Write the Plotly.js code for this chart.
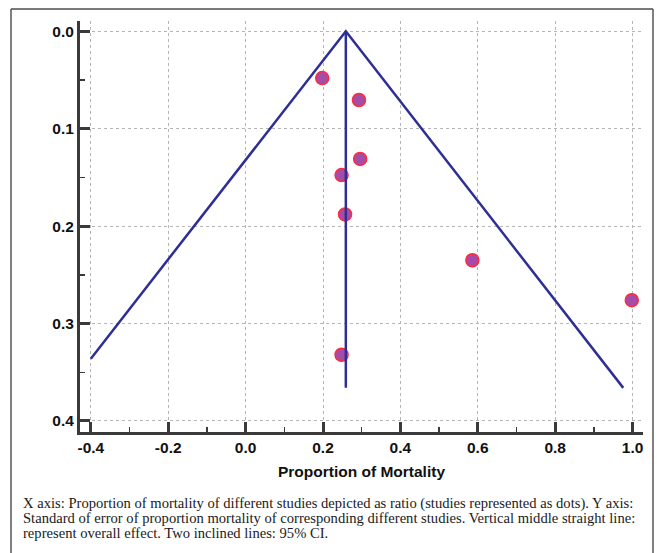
<!DOCTYPE html>
<html>
<head>
<meta charset="utf-8">
<script src="https://cdn.plot.ly/plotly-3.0.1.min.js"></script>
<style>
html,body{margin:0;padding:0;background:#fff;}
#chart{width:657px;height:553px;}
</style>
</head>
<body>
<div id="chart"></div>
<script>
// Study points: proportion of mortality (x) and standard error (y)
const studyProportion = [0.198, 0.293, 0.296, 0.248, 0.257, 0.586, 0.998, 0.248];
const studySE = [0.048, 0.0705, 0.131, 0.1475, 0.188, 0.235, 0.276, 0.332];

// Overall effect (vertical line)
const overallX = [0.259, 0.259];
const overallY = [0, 0.366];

// 95% CI funnel lines
const ciX = [-0.4, 0.259, 0.976];
const ciY = [0.336, 0, 0.366];

// Axis ticks
const xTicks = [-0.4, -0.2, 0.0, 0.2, 0.4, 0.6, 0.8, 1.0];
const xTickLabels = ["-0.4", "-0.2", "0.0", "0.2", "0.4", "0.6", "0.8", "1.0"];
const yTicks = [0.0, 0.1, 0.2, 0.3, 0.4];
const yTickLabels = ["0.0", "0.1", "0.2", "0.3", "0.4"];

const xTitle = "Proportion of Mortality";
const captionLines = [
  "X axis: Proportion of mortality of different studies depicted as ratio (studies represented as dots). Y axis:",
  "Standard of error of proportion mortality of corresponding different studies. Vertical middle straight line:",
  "represent overall effect. Two inclined lines: 95% CI."
];

const lineColor = "#2e2f94";

const traces = [
  {
    x: studyProportion, y: studySE, mode: "markers", type: "scatter",
    marker: {size: 13, color: "#a64ca8", line: {color: "#ff2a3a", width: 1.5}},
    hoverinfo: "x+y", showlegend: false
  },
  {
    x: overallX, y: overallY, mode: "lines", type: "scatter",
    line: {color: lineColor, width: 2.5}, showlegend: false
  },
  {
    x: ciX, y: ciY, mode: "lines", type: "scatter",
    line: {color: lineColor, width: 2.5}, showlegend: false
  }
];

// plot area: x 80..643, y 21..432 (px)
const L = 80, R = 643, T = 21, B = 432, W = 657, H = 553;
const px2x = p => (p - L) / (R - L);
const py2y = p => (B - p) / (B - T);

const tickFont = {family: "Liberation Sans, Arial, sans-serif", size: 15.5, color: "#111", weight: "bold"};

const annotations = captionLines.map((t, i) => ({
  text: t, xref: "paper", yref: "paper",
  x: px2x(21), y: py2y(503 + i * 15), xanchor: "left", yanchor: "middle",
  showarrow: false,
  font: {family: "Liberation Serif, Times New Roman, serif", size: 14.6, color: "#1a1a1a"}
}));

const layout = {
  width: W, height: H,
  margin: {l: L, r: W - R, t: T, b: H - B, pad: 0},
  paper_bgcolor: "#fff", plot_bgcolor: "#fff",
  xaxis: {
    range: [-0.428, 1.027],
    tickvals: xTicks, ticktext: xTickLabels,
    ticks: "inside", ticklen: 10, tickwidth: 3, tickcolor: "#3a3a3a",
    minor: {ticks: "inside", ticklen: 5, tickwidth: 1.5, tickcolor: "#3a3a3a", dtick: 0.1, tick0: 0, showgrid: false},
    showline: true, linewidth: 3, linecolor: "#3a3a3a",
    showgrid: true, gridcolor: "#b5b5b5", griddash: "dot", gridwidth: 1,
    zeroline: false,
    tickfont: tickFont,
    ticklabelstandoff: -1,
    title: {text: xTitle, font: {family: "Liberation Sans, Arial, sans-serif", size: 15.5, color: "#111", weight: "bold"}, standoff: 12}
  },
  yaxis: {
    range: [0.4113, -0.0106],
    tickvals: yTicks, ticktext: yTickLabels,
    ticks: "inside", ticklen: 10, tickwidth: 3, tickcolor: "#3a3a3a",
    minor: {ticks: "inside", ticklen: 5, tickwidth: 1.5, tickcolor: "#3a3a3a", dtick: 0.05, tick0: 0, showgrid: false},
    showline: true, linewidth: 3, linecolor: "#3a3a3a",
    showgrid: true, gridcolor: "#b5b5b5", griddash: "dot", gridwidth: 1,
    zeroline: false,
    tickfont: tickFont,
    ticklabelstandoff: 0
  },
  shapes: [
    {type: "line", xref: "paper", yref: "paper", x0: px2x(11), x1: px2x(653), y0: py2y(9), y1: py2y(9), line: {color: "#7a7a7a", width: 2}},
    {type: "line", xref: "paper", yref: "paper", x0: px2x(11), x1: px2x(11), y0: py2y(9), y1: py2y(560), line: {color: "#555", width: 1.5}},
    {type: "line", xref: "paper", yref: "paper", x0: px2x(653), x1: px2x(653), y0: py2y(9), y1: py2y(560), line: {color: "#555", width: 1.5}}
  ],
  annotations: annotations,
  showlegend: false
};

Plotly.newPlot("chart", traces, layout, {displayModeBar: false, staticPlot: true});
</script>
</body>
</html>
